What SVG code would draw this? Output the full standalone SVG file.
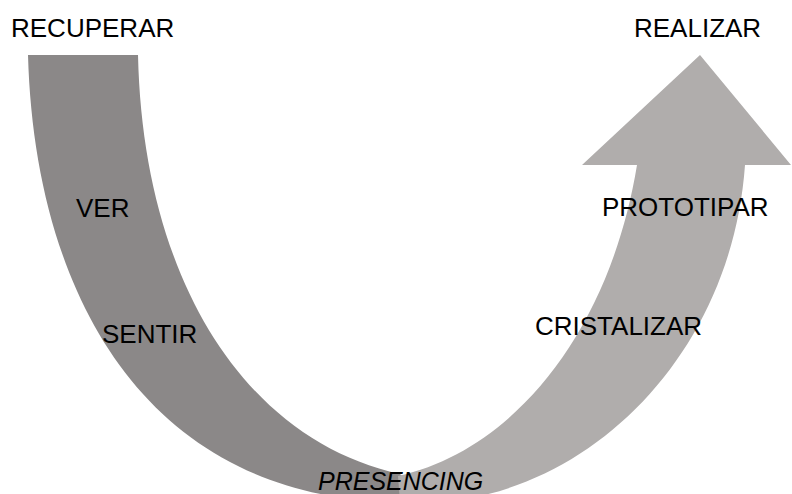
<svg xmlns="http://www.w3.org/2000/svg" width="792" height="494" viewBox="0 0 792 494">
<style>
.lbl{font-family:"Liberation Sans",Arial,sans-serif;font-size:26px;fill:#000}
.it{font-style:italic;font-size:25px}
</style>
<rect width="792" height="494" fill="#fff"/>
<g id="band-left">
<path d="M28,55 L138,55 C143,280 245,440 400,474 L430,502 L400,502 C150,500 35,300 28,55 Z" fill="#8b8888"/>
</g>
<g id="band-right">
<path d="M398,476 C515,450 610,330 637,165 L582,165 L700,55 L791,165 L745,165 C732,350 595,490 440,502 L400,502 Z" fill="#b0adac"/>
</g>
<g id="labels">
<text class="lbl" x="11" y="37">RECUPERAR</text>
<text class="lbl" x="634" y="37">REALIZAR</text>
<text class="lbl" x="76" y="217">VER</text>
<text class="lbl" x="102" y="343">SENTIR</text>
<text class="lbl" x="602" y="216">PROTOTIPAR</text>
<text class="lbl" x="535" y="335">CRISTALIZAR</text>
<text class="lbl it" x="318" y="490">PRESENCING</text>
</g>
</svg>
